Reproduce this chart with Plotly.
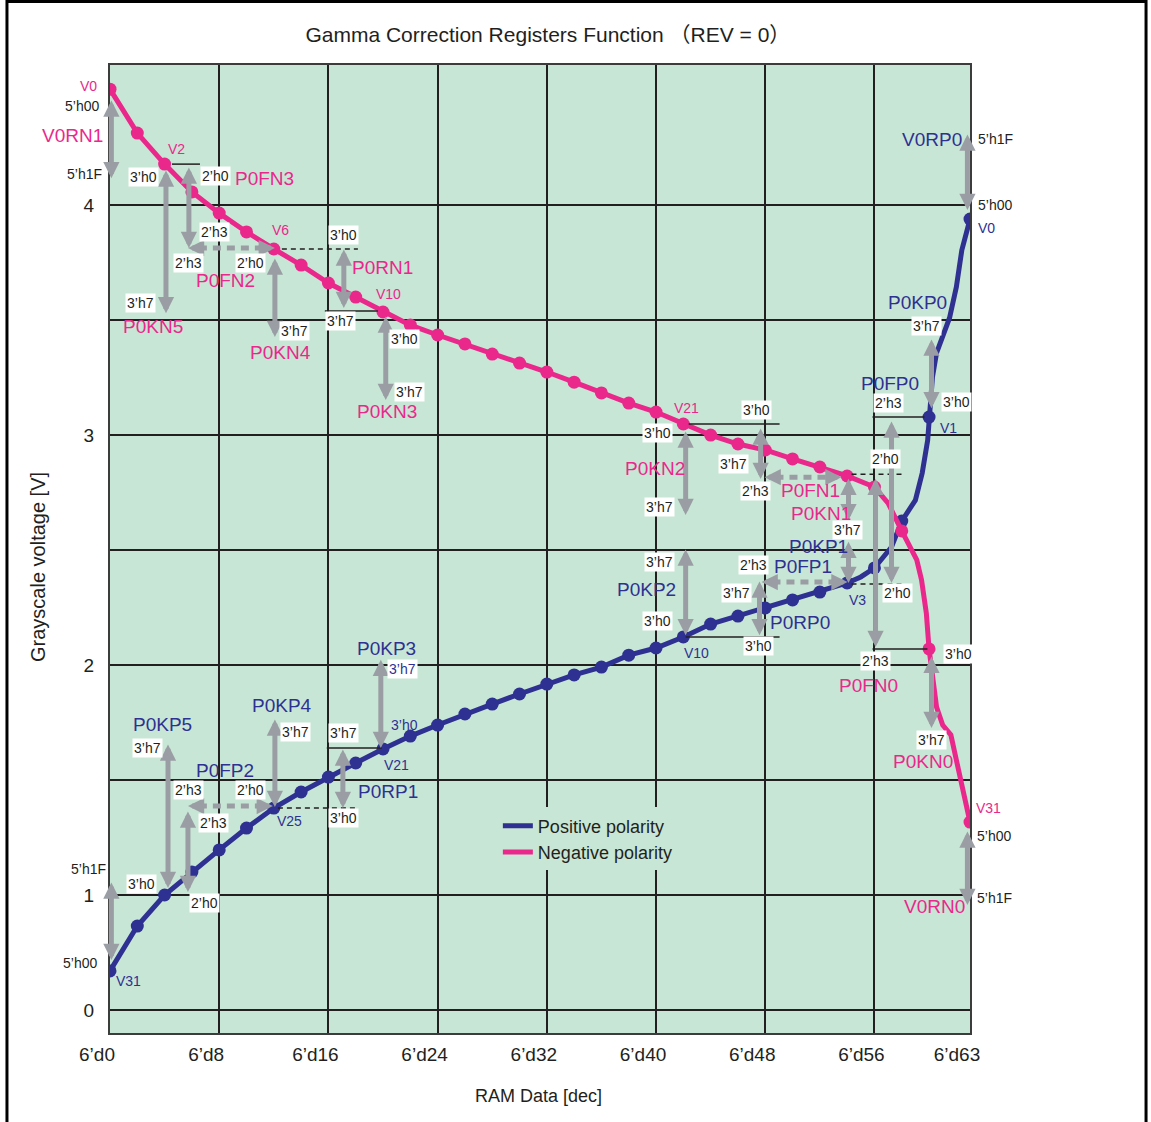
import plotly.graph_objects as go

# 32 grayscale reference points (RAM data code -> voltage)
ram_code = [0, 2, 4, 6, 8, 10, 12, 14, 16, 18, 20, 22, 24, 26, 28, 30,
            32, 34, 36, 38, 40, 42, 44, 46, 48, 50, 52, 54, 56, 58, 60, 63]
pos_volt = [0.670, 0.865, 1.000, 1.100, 1.196, 1.291, 1.378, 1.448, 1.513, 1.574,
            1.635, 1.691, 1.739, 1.787, 1.830, 1.874, 1.917, 1.957, 1.991, 2.043,
            2.074, 2.122, 2.178, 2.213, 2.248, 2.283, 2.317, 2.357, 2.422, 2.626,
            3.078, 3.939]
neg_volt = [4.504, 4.313, 4.178, 4.057, 3.965, 3.883, 3.809, 3.739, 3.661, 3.600,
            3.535, 3.478, 3.435, 3.396, 3.352, 3.313, 3.274, 3.230, 3.183, 3.139,
            3.100, 3.048, 3.000, 2.961, 2.935, 2.896, 2.861, 2.822, 2.774, 2.583,
            2.070, 1.317]

# extra curve points at the steep ends (no dot drawn there)
pos_tail_code = [55, 57.25, 59, 59.5, 59.9, 60.25, 60.55, 61.5, 62, 62.4]
pos_tail_volt = [2.383, 2.513, 2.717, 2.835, 2.978, 3.252, 3.357, 3.509, 3.643, 3.804]
neg_tail_code = [57, 59.1, 59.45, 59.8, 60.25, 60.55, 61, 61.6, 62, 62.4]
neg_tail_volt = [2.704, 2.457, 2.370, 2.226, 1.965, 1.817, 1.739, 1.696, 1.587, 1.470]

x_tick_vals = [0, 8, 16, 24, 32, 40, 48, 56, 63]
x_tick_text = ["6’d0", "6’d8", "6’d16", "6’d24", "6’d32", "6’d40", "6’d48", "6’d56", "6’d63"]
y_tick_vals = [0.5, 1, 1.5, 2, 2.5, 3, 3.5, 4]
y_tick_text = ["0", "1", "", "2", "", "3", "", "4"]

X_MAX = 63
BLUE = "#2E3192"
PINK = "#EA288C"
GRAY = "#9A9EA4"
INK = "#231F20"
GREEN = "#C8E6D5"
FONT = "Liberation Sans, Arial, Noto Sans CJK JP, sans-serif"


def merged(xs, ys, extra_x, extra_y):
    pts = sorted(zip(xs + extra_x, ys + extra_y))
    return [p[0] for p in pts], [p[1] for p in pts]


pos_x, pos_y = merged(ram_code, pos_volt, pos_tail_code, pos_tail_volt)
neg_x, neg_y = merged(ram_code, neg_volt, neg_tail_code, neg_tail_volt)

fig = go.Figure()
fig.add_trace(go.Scatter(x=pos_x, y=pos_y, mode="lines", name="Positive polarity",
                         line=dict(color=BLUE, width=5)))
fig.add_trace(go.Scatter(x=ram_code, y=pos_volt, mode="markers", showlegend=False,
                         marker=dict(color=BLUE, size=13)))
fig.add_trace(go.Scatter(x=neg_x, y=neg_y, mode="lines", name="Negative polarity",
                         line=dict(color=PINK, width=5)))
fig.add_trace(go.Scatter(x=ram_code, y=neg_volt, mode="markers", showlegend=False,
                         marker=dict(color=PINK, size=13)))

annotations = []
shapes = []


def text(x, y, s, color=INK, size=14, box=False, anchor="center"):
    # labels left/right of the grid are placed in paper units (data refs off-axis get hidden)
    outside = x < 0 or x > X_MAX
    annotations.append(dict(
        x=x / X_MAX if outside else x, y=y, xref="paper" if outside else "x", yref="y",
        text=s, showarrow=False, xanchor=anchor, yanchor="middle",
        font=dict(family=FONT, size=size, color=color),
        bgcolor="white" if box else "rgba(0,0,0,0)", borderpad=1))


def arrow(x, y, ax, ay, both=True):
    annotations.append(dict(
        x=x, y=y, ax=ax, ay=ay, xref="x", yref="y", axref="x", ayref="y",
        text="", showarrow=True, arrowhead=2, startarrowhead=2,
        arrowside="end+start" if both else "end",
        arrowsize=0.65, startarrowsize=0.65, arrowwidth=5, arrowcolor=GRAY,
        standoff=0, startstandoff=0))


def dotted_arrow(y, x0, x1):
    shapes.append(dict(type="line", xref="x", yref="y", x0=x0 + 0.8, x1=x1 - 0.8,
                       y0=y, y1=y, line=dict(color=GRAY, width=5, dash="8px,6px")))
    arrow(x0, y, x0 + 1.3, y, both=False)
    arrow(x1, y, x1 - 1.3, y, both=False)


def tick_line(y, x0, x1, dashed=False):
    shapes.append(dict(type="line", xref="x", yref="y", x0=x0, x1=x1, y0=y, y1=y,
                       line=dict(color=INK, width=1.5, dash="5px,4px" if dashed else "solid")))


# register ranges (vertical double arrows)
for x, y0, y1 in [
    (0.1, 4.461, 4.117), (4.10, 4.157, 3.530), (5.78, 4.170, 3.813),
    (12.08, 3.774, 3.426), (17.13, 3.813, 3.552), (20.20, 3.522, 3.152),
    (42.17, 3.022, 2.652), (47.66, 3.035, 2.809), (54.10, 2.817, 2.630),
    (54.10, 2.543, 2.357), (47.58, 2.370, 2.130), (42.17, 2.509, 2.130),
    (56.08, 2.817, 2.078), (57.25, 3.065, 2.357), (60.18, 3.422, 3.117),
    (62.81, 4.313, 3.978), (60.18, 2.043, 1.726), (62.81, 1.283, 0.957),
    (0.1, 1.061, 0.717), (4.25, 1.661, 1.030), (5.71, 1.370, 1.013),
    (12.08, 1.770, 1.383), (17.06, 1.639, 1.378), (19.84, 2.030, 1.639),
]:
    arrow(x, y1, x, y0)

for y, x0, x1 in [(3.813, 5.71, 12.08), (2.817, 47.95, 53.59),
                  (2.361, 47.73, 54.03), (1.387, 5.71, 11.93)]:
    dotted_arrow(y, x0, x1)

for y, x0, x1, d in [
    (4.178, 4.54, 6.59, False), (3.809, 12.59, 18.16, True), (3.539, 15.74, 19.62, False),
    (3.048, 42.39, 49.05, False), (2.830, 54.32, 58.2, True), (2.352, 54.32, 58.2, True),
    (2.070, 55.86, 59.88, False), (3.078, 55.86, 59.66, False), (2.122, 42.17, 49.05, False),
    (1.639, 15.88, 19.91, False), (1.378, 12.3, 17.94, True), (1.0, 4.54, 6.59, False),
]:
    tick_line(y, x0, x1, d)

# register value labels in white boxes
for s, x, y in [
    ("3’h0", 2.42, 4.122), ("2’h0", 7.76, 4.126), ("2’h3", 7.69, 3.883),
    ("2’h3", 5.78, 3.748), ("2’h0", 10.32, 3.748), ("3’h0", 17.13, 3.870),
    ("3’h7", 2.27, 3.574), ("3’h7", 13.54, 3.452), ("3’h7", 16.91, 3.496),
    ("3’h0", 21.60, 3.417), ("3’h7", 21.96, 3.187), ("3’h0", 47.36, 3.109),
    ("3’h0", 40.12, 3.009), ("3’h7", 45.68, 2.874), ("2’h3", 47.29, 2.757),
    ("3’h7", 40.26, 2.687), ("3’h7", 54.03, 2.587), ("3’h7", 40.26, 2.448),
    ("2’h3", 47.14, 2.435), ("3’h7", 45.90, 2.313), ("3’h0", 40.12, 2.191),
    ("3’h0", 47.51, 2.083), ("3’h7", 59.81, 3.474), ("3’h0", 62.01, 3.143),
    ("2’h3", 57.03, 3.139), ("2’h0", 56.81, 2.896), ("2’h0", 57.69, 2.313),
    ("2’h3", 56.08, 2.017), ("3’h0", 62.15, 2.048), ("3’h7", 60.18, 1.674),
    ("3’h7", 2.78, 1.639), ("2’h3", 5.78, 1.456), ("2’h0", 10.32, 1.456),
    ("2’h3", 7.61, 1.313), ("3’h7", 13.62, 1.709), ("3’h7", 17.13, 1.704),
    ("3’h0", 17.13, 1.335), ("3’h0", 2.34, 1.048), ("2’h0", 6.95, 0.965),
]:
    text(x, y, s, box=True)

# 5-bit offset labels outside the grid
for s, x, y, a in [
    ("5’h00", -0.66, 4.430, "right"), ("5’h1F", -0.44, 4.135, "right"),
    ("5’h1F", -0.15, 1.113, "right"), ("5’h00", -0.80, 0.704, "right"),
    ("5’h1F", 63.47, 4.287, "left"), ("5’h00", 63.47, 4.000, "left"),
    ("5’h00", 63.40, 1.257, "left"), ("5’h1F", 63.40, 0.987, "left"),
]:
    text(x, y, s, anchor=a)

# register names and reference voltages, negative polarity
for s, x, y in [
    ("V0RN1", -2.78, 4.304), ("P0FN3", 11.35, 4.117), ("P0FN2", 8.49, 3.674),
    ("P0KN5", 3.15, 3.474), ("P0RN1", 19.99, 3.730), ("P0KN4", 12.52, 3.361),
    ("P0KN3", 20.28, 3.104), ("P0KN2", 39.90, 2.856), ("P0FN1", 51.32, 2.761),
    ("P0KN1", 52.05, 2.661), ("P0FN0", 55.56, 1.909), ("P0KN0", 59.59, 1.582),
    ("V0RN0", 60.40, 0.948),
]:
    text(x, y, s, color=PINK, size=19)
for s, x, y in [("V0", -1.54, 4.517), ("V2", 4.90, 4.243), ("V6", 12.52, 3.891),
                ("V10", 20.42, 3.613), ("V21", 42.24, 3.117), ("V31", 64.35, 1.378)]:
    text(x, y, s, color=PINK, size=14)

# positive polarity
for s, x, y in [
    ("V0RP0", 60.18, 4.287), ("P0KP0", 59.15, 3.578), ("P0FP0", 57.17, 3.222),
    ("P0KP1", 51.90, 2.517), ("P0FP1", 50.73, 2.430), ("P0RP0", 50.51, 2.187),
    ("P0KP2", 39.31, 2.330), ("P0KP3", 20.28, 2.070), ("P0RP1", 20.35, 1.448),
    ("P0KP4", 12.59, 1.822), ("P0FP2", 8.42, 1.543), ("P0KP5", 3.81, 1.743),
]:
    text(x, y, s, color=BLUE, size=19)
for s, x, y in [("V0", 64.20, 3.900), ("V1", 61.42, 3.030), ("V3", 54.76, 2.283),
                ("V10", 42.97, 2.052), ("V21", 21.01, 1.565), ("V25", 13.18, 1.322),
                ("V31", 1.39, 0.626), ("3’h0", 21.60, 1.739)]:
    text(x, y, s, color=BLUE, size=14)
text(21.45, 1.983, "3’h7", color=BLUE, size=14, box=True)

# axis titles
annotations.append(dict(x=-0.0837, y=0.4814, xref="paper", yref="paper", text="Grayscale voltage [V]",
                        textangle=-90, showarrow=False, xanchor="center", yanchor="middle",
                        font=dict(family=FONT, size=20, color=INK)))
annotations.append(dict(x=0.4988, y=-0.0651, xref="paper", yref="paper", text="RAM Data [dec]",
                        showarrow=False, xanchor="center", yanchor="middle",
                        font=dict(family=FONT, size=18, color=INK)))

# outer frame of the figure
shapes.append(dict(type="rect", xref="paper", yref="paper", x0=-0.1198, x1=1.2047,
                   y0=-0.2, y1=1.0656, line=dict(color="black", width=3)))

axis_style = dict(showgrid=True, gridcolor=INK, gridwidth=1.6, zeroline=False,
                  showline=True, linecolor="#3C3C3C", linewidth=2, mirror=True, ticks="")

fig.update_layout(
    width=1151, height=1122, autosize=False,
    margin=dict(l=110, r=181, t=65, b=89),
    paper_bgcolor="white", plot_bgcolor=GREEN,
    font=dict(family=FONT, color=INK),
    title=dict(text="Gamma Correction Registers Function （REV = 0）", x=0.476, xref="container",
               y=0.9688, yanchor="middle", xanchor="center", font=dict(size=21, color=INK)),
    xaxis=dict(range=[0, X_MAX], tickvals=x_tick_vals, ticktext=x_tick_text,
               tickfont=dict(size=19), ticklabelshift=-13, ticklabelstandoff=3, **axis_style),
    yaxis=dict(range=[0.4, 4.609], tickvals=y_tick_vals, ticktext=y_tick_text,
               tickfont=dict(size=19), ticklabelstandoff=10, **axis_style),
    legend=dict(x=0.451, y=0.233, xanchor="left", yanchor="top", bgcolor=GREEN,
                font=dict(size=18, color=INK)),
    annotations=annotations,
    shapes=shapes,
)

# drop the page's default body margin so the figure sits at the window origin
fig.write_html("out.html", config={"displayModeBar": False},
               post_script="document.body.style.margin = '0';")
